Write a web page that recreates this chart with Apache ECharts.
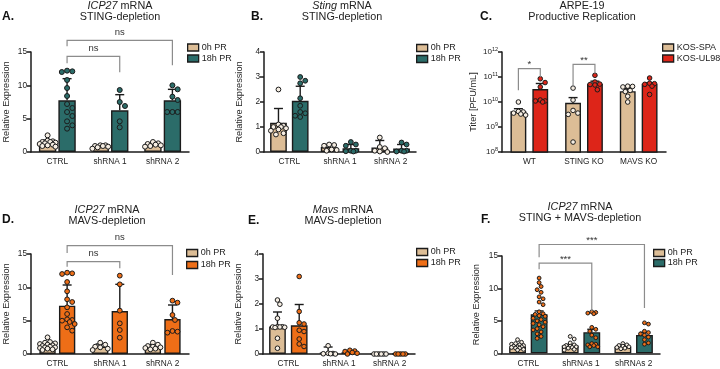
<!DOCTYPE html>
<html>
<head>
<meta charset="utf-8">
<script src="https://cdn.jsdelivr.net/npm/echarts@6/dist/echarts.min.js"></script>
<style>
  html, body { margin: 0; background: #fff; }
  #chart { width: 720px; height: 369px; }
</style>
</head>
<body>
<div id="chart"></div>
<script>
const FONT = '"Liberation Sans", Arial, sans-serif';
const TAN = '#dcbd96', TEAL = '#2b6c69', RED = '#dd2519', ORANGE = '#ee6e17';
const PALE = '#f6eee3', INK = '#1b1b1b', GREY = '#8c8c8c';

// categories
const shCats = ['CTRL', 'shRNA 1', 'shRNA 2'];
const koCats = ['WT', 'STING KO', 'MAVS KO'];
const shsCats = ['CTRL', 'shRNAs 1', 'shRNAs 2'];

// A. ICP27 mRNA, STING-depletion
const aMean0 = [1.35, 0.85, 1.1];
const aErr0 = [0.45, 0.15, 0.2];
const aMean18 = [7.75, 6.25, 7.75];
const aErr18 = [3.25, 2.35, 1.65];
const aDots0 = [[2.5, 1.7, 1.6, 1.5, 1.5, 1.4, 1.3, 1.2, 1.1, 1.0, 0.9, 0.8], [1.0, 1.0, 0.9, 0.9, 0.8, 0.7, 0.5], [1.5, 1.3, 1.2, 1.1, 1.0, 0.9, 0.8]];
const aDots18 = [[12.2, 12.1, 12.0, 10.8, 9.6, 8.4, 7.2, 6.6, 6.0, 5.4, 4.6, 4.0, 3.5], [9.3, 7.5, 6.9, 4.6, 3.7], [10.0, 9.4, 8.3, 7.8, 6.0, 6.0, 6.0]];
const aSig = [[0, 1, 2, 1, 16.75, 15.85, 13.0, 'ns'], [0, 1, 1, 1, 14.35, 13.3, 11.95, 'ns']];

// B. Sting mRNA, STING-depletion
const bMean0 = [1.17, 0.2, 0.18];
const bErr0 = [0.57, 0.1, 0.28];
const bMean18 = [2.05, 0.15, 0.14];
const bErr18 = [0.58, 0.15, 0.16];
const bDots0 = [[2.5, 1.1, 1.05, 1.0, 1.0, 0.95, 0.9, 0.85, 0.75, 0.7], [0.3, 0.28, 0.25, 0.1, 0.08, 0.05], [0.58, 0.2, 0.15, 0.05, 0.02, 0.0]];
const bDots18 = [[3.0, 2.85, 2.75, 2.15, 1.85, 1.6, 1.55, 1.45, 1.4], [0.4, 0.3, 0.25, 0.05, 0.05, 0.03, 0.02], [0.38, 0.3, 0.05, 0.05, 0.02, 0.02]];

// C. ARPE-19 productive replication (PFU/mL)
const cMeanSpa = [4.3e9, 9.3e9, 2.7e10];
const cErrSpa = [1.1e9, 5.7e9, 7e9];
const cMeanUl = [3.3e10, 5.4e10, 5.4e10];
const cErrUl = [2.2e10, 1.4e10, 5e9];
const cDotsSpa = [[1.0e10, 4.2e9, 4.0e9, 3.6e9, 3.3e9, 3.0e9], [3.6e10, 1.2e10, 4.6e9, 3.6e9, 3.2e9, 2.5e8], [4.3e10, 4.2e10, 4.0e10, 2.9e10, 2.6e10, 1.7e10, 1.0e10]];
const cDotsUl = [[8.5e10, 6.0e10, 4.0e10, 1.2e10, 1.1e10, 1.1e10, 1.0e10], [1.17e11, 6.3e10, 5.2e10, 5.0e10, 4.8e10, 3.1e10], [9.1e10, 5.6e10, 5.4e10, 5.1e10, 4.3e10, 2.0e10]];
const cSig = [[0, 0, 0, 1, 2.17e11, 2.94e10, 1e11, '*'], [1, 0, 1, 1, 3.22e11, 3.98e10, 1.37e11, '**']];
const cTicks = [1e8, 1e9, 1e10, 1e11, 1e12];

// D. ICP27 mRNA, MAVS-depletion
const dMean0 = [1.3, 1.1, 1.1];
const dErr0 = [0.45, 0.4, 0.3];
const dMean18 = [7.25, 6.45, 5.25];
const dErr18 = [3.1, 4.0, 2.1];
const dDots0 = [[2.5, 1.8, 1.7, 1.6, 1.5, 1.4, 1.3, 1.2, 1.1, 1.0, 1.0, 0.9, 0.8, 0.7, 0.6], [1.7, 1.4, 1.1, 1.0, 0.8, 0.6], [1.7, 1.4, 1.2, 1.1, 1.0, 0.9, 0.8, 0.7]];
const dDots18 = [[12.2, 12.1, 12.0, 10.8, 9.4, 8.2, 7.8, 7.0, 6.0, 5.2, 5.1, 5.0, 4.8, 4.5, 4.0, 3.5], [11.75, 10.45, 6.5, 4.6, 3.6, 2.45], [8.0, 7.7, 5.85, 5.1, 3.45, 3.35, 3.2]];
const dSig = [[0, 1, 2, 1, 16.25, 15.15, 11.85, 'ns'], [0, 1, 1, 1, 13.85, 13.1, 12.85, 'ns']];

// E. Mavs mRNA, MAVS-depletion
const eMean0 = [1.1, 0.06, 0];
const eErr0 = [0.58, 0.22, 0];
const eMean18 = [1.15, 0.07, 0];
const eErr18 = [0.83, 0.05, 0];
const eDots0 = [[2.16, 1.99, 1.43, 1.09, 1.09, 1.08, 1.08, 1.07, 1.06, 0.63, 0.23], [0.33, 0.03, 0.02, 0.01, 0.01, 0.0], [0, 0, 0, 0, 0, 0]];
const eDots18 = [[3.1, 1.7, 1.25, 1.2, 0.95, 0.9, 0.6, 0.4, 0.3], [0.15, 0.12, 0.1, 0.06, 0.03, 0.0], [0, 0, 0, 0, 0]];

// F. ICP27 mRNA, STING + MAVS-depletion
const fMean0 = [1.03, 1.19, 1.0];
const fErr0 = [0.1, 0.18, 0.1];
const fMean18 = [6.03, 3.25, 2.84];
const fErr18 = [0.5, 0.45, 0.4];
const fDots0 = [[2.1, 1.7, 1.5, 1.4, 1.3, 1.2, 1.1, 1.0, 1.0, 0.9, 0.8, 0.8, 0.6, 0.5], [2.6, 2.2, 1.6, 1.3, 1.2, 1.1, 1.0, 1.0, 0.9, 0.8, 0.6, 0.5], [1.5, 1.3, 1.2, 1.1, 1.0, 0.9, 0.8, 0.7]];
const fDots18 = [[11.6, 10.9, 10.3, 9.8, 9.4, 8.7, 8.4, 7.9, 7.5, 6.4, 6.1, 6.0, 5.8, 5.7, 5.4, 5.2, 5.0, 4.8, 4.6, 4.4, 4.1, 3.8, 3.6, 3.3, 3.0, 2.6, 2.3], [6.4, 6.3, 6.2, 6.1, 4.0, 3.7, 3.4, 2.8, 2.4, 1.5, 1.4, 1.3, 1.2, 1.0, 1.0], [4.7, 4.5, 3.4, 3.2, 3.0, 2.8, 2.5, 2.1, 1.6, 1.4]];
const fSig = [[0, 1, 2, 1, 16.77, 14.8, 6.97, '***'], [0, 1, 1, 1, 13.9, 12.97, 6.5, '***']];

const relName = 'Relative Expression';

const panels = [
    { cats: shCats, grid: { left: 31, top: 52, width: 158, height: 100 }, max: 15, interval: 5, yName: relName, nameGap: 20,
      names: ['0h PR', '18h PR'], colors: [TAN, TEAL], dotFill: [PALE, TEAL], barFrac: 0.33, gapFrac: 0.12,
      mean: [aMean0, aMean18], err: [aErr0, aErr18], dots: [aDots0, aDots18], sig: aSig, sigOff: -8,
      legend: { left: 187, top: 42.5, gap: 1 }, dot: 2.5, spread: 9,
      title: ['{i|ICP27} mRNA', 'STING-depletion'], tx: 120, ty: [6, 17], letter: ['A.', 2, 17] },
    { cats: shCats, grid: { left: 264, top: 52, width: 152, height: 100 }, max: 4, interval: 1, yName: relName, nameGap: 20,
      names: ['0h PR', '18h PR'], colors: [TAN, TEAL], dotFill: [PALE, TEAL], barFrac: 0.33, gapFrac: 0.3,
      mean: [bMean0, bMean18], err: [bErr0, bErr18], dots: [bDots0, bDots18], sig: [], sigOff: -8,
      legend: { left: 416, top: 43, gap: 1 }, dot: 2.4, spread: 9,
      title: ['{i|Sting} mRNA', 'STING-depletion'], tx: 342, ty: [6, 17], letter: ['B.', 251, 17] },
    { cats: koCats, grid: { left: 502, top: 52, width: 164, height: 100 }, log: true, yName: 'Titer [PFU/mL]', nameGap: 24,
      names: ['KOS-SPA', 'KOS-UL98'], colors: [TAN, RED], dotFill: [PALE, RED], barFrac: 0.29, gapFrac: 0.38,
      mean: [cMeanSpa, cMeanUl], err: [cErrSpa, cErrUl], dots: [cDotsSpa, cDotsUl], sig: cSig, sigOff: -4,
      legend: { left: 662, top: 42.5, gap: 1 }, dot: 2.3, spread: 9,
      title: ['ARPE-19', 'Productive Replication'], tx: 582, ty: [6, 17], letter: ['C.', 480, 17] },
    { cats: shCats, grid: { left: 31, top: 254, width: 158, height: 100 }, max: 15, interval: 5, yName: relName, nameGap: 20,
      names: ['0h PR', '18h PR'], colors: [TAN, ORANGE], dotFill: [PALE, ORANGE], barFrac: 0.31, gapFrac: 0.2,
      mean: [dMean0, dMean18], err: [dErr0, dErr18], dots: [dDots0, dDots18], sig: dSig, sigOff: -8,
      legend: { left: 186, top: 248, gap: 2 }, dot: 2.4, spread: 9,
      title: ['{i|ICP27} mRNA', 'MAVS-depletion'], tx: 107, ty: [210, 221], letter: ['D.', 2, 220] },
    { cats: shCats, grid: { left: 263, top: 254, width: 152, height: 100 }, max: 4, interval: 1, yName: relName, nameGap: 20,
      names: ['0h PR', '18h PR'], colors: [TAN, ORANGE], dotFill: [PALE, ORANGE], barFrac: 0.33, gapFrac: 0.3,
      mean: [eMean0, eMean18], err: [eErr0, eErr18], dots: [eDots0, eDots18], sig: [], sigOff: -8,
      legend: { left: 416, top: 247, gap: 1 }, dot: 2.3, spread: 9,
      title: ['{i|Mavs} mRNA', 'MAVS-depletion'], tx: 343, ty: [210, 221], letter: ['E.', 248, 221] },
    { cats: shsCats, grid: { left: 502, top: 256, width: 158, height: 97.3 }, max: 15, interval: 5, yName: relName, nameGap: 21,
      names: ['0h PR', '18h PR'], colors: [TAN, TEAL], dotFill: [PALE, ORANGE], barFrac: 0.32, gapFrac: 0.28,
      mean: [fMean0, fMean18], err: [fErr0, fErr18], dots: [fDots0, fDots18], sig: fSig, sigOff: -4,
      legend: { left: 653, top: 248, gap: 0 }, dot: 1.9, spread: 7.5,
      title: ['{i|ICP27} mRNA', 'STING + MAVS-depletion'], tx: 580, ty: [207, 218], letter: ['F.', 481, 220] }
];

// x centre of bar `slot` in category `cat`
function slotX (api, p, cat, slot) {
    const ref = p.log ? 1e10 : 1;
    const band = api.coord([1, ref])[0] - api.coord([0, ref])[0];
    const bw = band * p.barFrac;
    const off = (bw + bw * p.gapFrac) / 2;
    return api.coord([cat, ref])[0] + (slot ? off : -off);
}

// spread dots sideways so they don't sit on top of each other
function swarm (ys, d, maxOff) {
    const placed = [];
    return ys.map((y) => {
        let best = 0, bestDist = -1;
        for (let k = 0; k < 40; k++) {
            const off = k === 0 ? 0 : (k % 2 ? 1 : -1) * Math.ceil(k / 2) * d * 0.5;
            if (Math.abs(off) > maxOff) break;
            let minD = Infinity;
            placed.forEach(q => { minD = Math.min(minD, Math.hypot(q[0] - off, q[1] - y)); });
            if (minD >= d) { best = off; bestDist = Infinity; break; }
            if (minD > bestDist + 0.01) { bestDist = minD; best = off; }
        }
        placed.push([best, y]);
        return best;
    });
}

const grids = [], xAxes = [], yAxes = [], series = [], legends = [], graphics = [];

panels.forEach((p, pi) => {
    grids.push(Object.assign({ outerBoundsMode: 'none', containLabel: false }, p.grid));

    xAxes.push({
        type: 'category', gridIndex: pi, data: p.cats,
        axisLine: { lineStyle: { color: INK, width: 1.5 } },
        axisTick: { alignWithLabel: true, length: 4, lineStyle: { color: INK, width: 1.5 } },
        axisLabel: { fontFamily: FONT, fontSize: 8.3, color: '#222', margin: 6 }
    });

    const y = {
        gridIndex: pi, name: p.yName, nameLocation: 'middle', nameGap: p.nameGap,
        nameTextStyle: { fontFamily: FONT, fontSize: 9.2, color: '#2a2a2a' },
        axisLine: { show: true, lineStyle: { color: INK, width: 1.5 } },
        axisTick: { show: true, length: 4, lineStyle: { color: INK, width: 1.5 } },
        splitLine: { show: false },
        axisLabel: { fontFamily: FONT, fontSize: 8.3, color: '#222', margin: 4 }
    };
    if (p.log) {
        Object.assign(y, { type: 'log', logBase: 10, min: cTicks[0], max: cTicks[cTicks.length - 1] });
        y.axisLabel.formatter = v => '{b|10}{s|' + Math.round(Math.log10(v)) + '}';
        y.axisLabel.rich = {
            b: { fontFamily: FONT, fontSize: 8, color: '#222' },
            s: { fontFamily: FONT, fontSize: 5.5, color: '#222', padding: [0, 0, 5, 0] }
        };
    } else {
        Object.assign(y, { type: 'value', min: 0, max: p.max, interval: p.interval });
    }
    yAxes.push(y);

    [0, 1].forEach(slot => {
        series.push({
            type: 'bar', name: p.names[slot], xAxisIndex: pi, yAxisIndex: pi,
            data: p.mean[slot], barWidth: (p.barFrac * 100) + '%', barGap: (p.gapFrac * 100) + '%',
            itemStyle: { color: p.colors[slot], borderColor: INK, borderWidth: 1.4 },
            silent: true, z: 2
        });
    });

    [0, 1].forEach(slot => {
        // error bars
        series.push({
            type: 'custom', xAxisIndex: pi, yAxisIndex: pi, silent: true, z: 3,
            data: p.cats.map((c, i) => [i, p.mean[slot][i]]), encode: { x: 0, y: 1 },
            renderItem (params, api) {
                const i = params.dataIndex;
                const e = p.err[slot][i];
                if (!e) return null;
                const m = p.mean[slot][i];
                const cx = slotX(api, p, i, slot);
                const y0 = api.coord([i, m])[1], y1 = api.coord([i, m + e])[1];
                const st = { stroke: INK, lineWidth: 1.4 };
                return {
                    type: 'group', children: [
                        { type: 'line', shape: { x1: cx, y1: y0, x2: cx, y2: y1 }, style: st },
                        { type: 'line', shape: { x1: cx - 4.5, y1: y1, x2: cx + 4.5, y2: y1 }, style: st }
                    ]
                };
            }
        });
        // individual replicates
        series.push({
            type: 'custom', xAxisIndex: pi, yAxisIndex: pi, silent: true, z: 4,
            data: p.cats.map((c, i) => [i, p.mean[slot][i]]), encode: { x: 0, y: 1 },
            renderItem (params, api) {
                const i = params.dataIndex;
                const cx = slotX(api, p, i, slot);
                const ys = p.dots[slot][i].map(v => api.coord([i, v])[1]);
                const offs = swarm(ys, p.dot * 2.1, p.spread);
                return {
                    type: 'group',
                    children: ys.map((yy, k) => ({
                        type: 'circle', shape: { cx: cx + offs[k], cy: yy, r: p.dot },
                        style: { fill: p.dotFill[slot], stroke: INK, lineWidth: 1 }
                    }))
                };
            }
        });
    });

    if (p.sig.length) {
        series.push({
            type: 'custom', xAxisIndex: pi, yAxisIndex: pi, silent: true, z: 5,
            data: p.sig.map(s => [s[0], s[4]]), encode: { x: 0, y: 1 },
            renderItem (params, api) {
                const s = p.sig[params.dataIndex];
                const x1 = slotX(api, p, s[0], s[1]), x2 = slotX(api, p, s[2], s[3]);
                const yl = api.coord([s[0], s[4]])[1];
                const ya = api.coord([s[0], s[5]])[1];
                const yb = api.coord([s[0], s[6]])[1];
                return {
                    type: 'group', children: [
                        { type: 'polyline', shape: { points: [[x1, ya], [x1, yl], [x2, yl], [x2, yb]] },
                          style: { stroke: GREY, lineWidth: 1.2, fill: null } },
                        { type: 'text', x: (x1 + x2) / 2, y: yl + p.sigOff,
                          style: { text: s[7], fill: '#333', fontFamily: FONT, fontSize: 9.5, align: 'center', verticalAlign: 'middle' } }
                    ]
                };
            }
        });
    }

    legends.push({
        left: p.legend.left, top: p.legend.top, orient: 'vertical', selectedMode: false,
        itemWidth: 11, itemHeight: 7, itemGap: p.legend.gap, icon: 'rect', padding: 0,
        textStyle: { fontFamily: FONT, fontSize: 9, color: '#222', lineHeight: 10, padding: [0, 0, 0, -2] },
        data: p.names.map((n, slot) => ({ name: n, itemStyle: { color: p.colors[slot], borderColor: INK, borderWidth: 1.3 } }))
    });

    p.title.forEach((t, li) => {
        graphics.push({
            type: 'text', x: p.tx, y: p.ty[li], silent: true,
            style: {
                text: t, fill: '#222', fontFamily: FONT, fontSize: 10.8, align: 'center', verticalAlign: 'middle',
                rich: { i: { fontFamily: FONT, fontSize: 10.8, fontStyle: 'italic', fill: '#222' } }
            }
        });
    });
    graphics.push({
        type: 'text', x: p.letter[1], y: p.letter[2], silent: true,
        style: { text: p.letter[0], fill: '#111', fontFamily: FONT, fontSize: 12, fontWeight: 'bold', verticalAlign: 'middle' }
    });
});

const chart = echarts.init(document.getElementById('chart'), null, { renderer: 'canvas' });
chart.setOption({
    animation: false,
    backgroundColor: '#fff',
    grid: grids,
    xAxis: xAxes,
    yAxis: yAxes,
    legend: legends,
    graphic: graphics,
    series
});
</script>
</body>
</html>
